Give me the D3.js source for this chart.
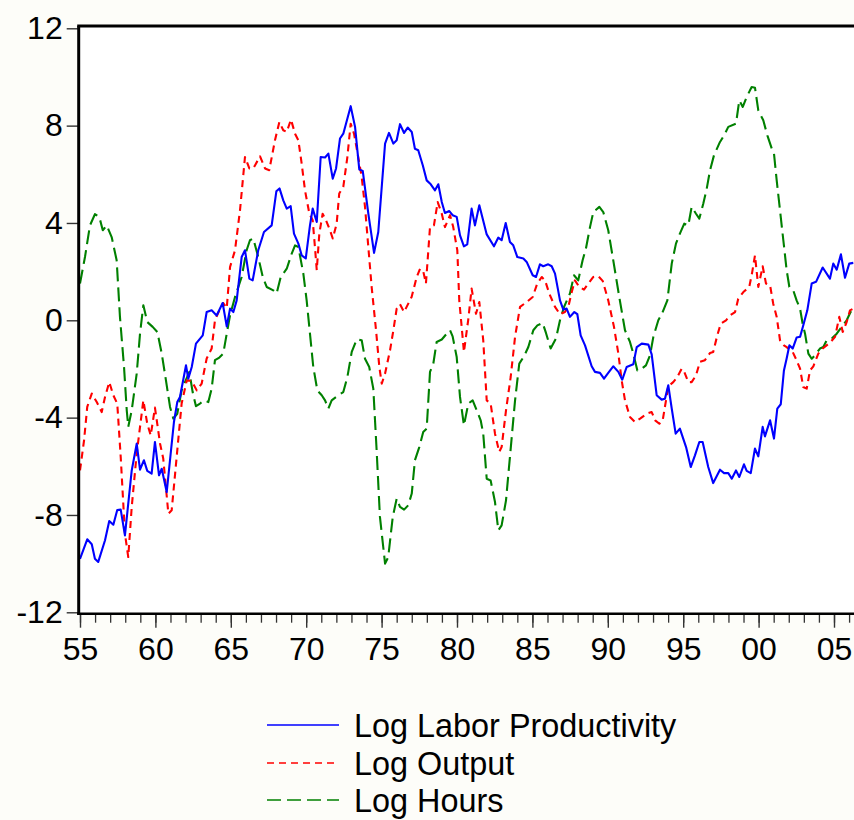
<!DOCTYPE html>
<html><head><meta charset="utf-8">
<script src="https://cdn.jsdelivr.net/npm/d3@7"></script>
<style>
html,body{margin:0;padding:0;background:#fdfdf9;}
svg{display:block;}
text{font-family:"Liberation Sans",Arial,sans-serif;fill:#000;}
</style></head><body>
<svg id="chart" width="854" height="820"></svg>
<script>
// ---------- DATA ----------
const seriesNames = ["Log Labor Productivity", "Log Output", "Log Hours"];
const yTickValues = [-12, -8, -4, 0, 4, 8, 12];
const xMajorYears = [1955, 1960, 1965, 1970, 1975, 1980, 1985, 1990, 1995, 2000, 2005];
const xTickLabels = ["55", "60", "65", "70", "75", "80", "85", "90", "95", "00", "05"];

const productivity = [
[1955.00,-9.8],[1955.48,-9.0],[1955.78,-9.2],[1955.99,-9.8],[1956.21,-9.93],[1956.66,-9.04],[1956.94,-8.25],[1957.21,-8.4],[1957.47,-7.8],[1957.70,-7.78],
[1957.98,-8.84],[1958.43,-6.17],[1958.76,-5.07],[1958.98,-6.14],[1959.24,-5.75],[1959.46,-6.19],[1959.75,-6.3],[1959.97,-5.0],[1960.24,-6.37],[1960.42,-6.1],
[1960.75,-7.06],[1961.23,-4.18],[1961.45,-3.36],[1961.63,-3.15],[1962.03,-1.85],[1962.18,-2.4],[1962.41,-1.92],[1962.69,-0.96],[1963.14,-0.62],[1963.40,0.34],
[1963.73,0.41],[1964.06,0.2],[1964.46,0.71],[1964.73,-0.25],[1964.95,0.48],[1965.17,0.34],[1965.39,0.82],[1965.72,2.6],[1965.94,2.88],[1966.23,1.71],
[1966.45,1.64],[1966.82,2.88],[1967.20,3.63],[1967.71,3.9],[1968.02,5.3],[1968.23,5.42],[1968.48,4.93],[1968.71,4.59],[1968.97,4.69],[1969.19,3.56],
[1969.48,3.15],[1969.70,2.67],[1969.97,2.54],[1970.25,3.9],[1970.43,4.59],[1970.70,4.04],[1970.96,6.71],[1971.25,6.69],[1971.47,6.85],[1971.76,5.82],
[1971.98,6.24],[1972.24,7.47],[1972.46,7.67],[1972.95,8.8],[1973.24,7.95],[1973.52,6.2],[1973.75,6.14],[1974.12,4.38],[1974.50,2.77],[1974.78,3.63],
[1975.23,7.26],[1975.49,7.7],[1975.78,7.26],[1976.00,7.4],[1976.22,8.06],[1976.49,7.7],[1976.73,7.92],[1977.00,7.74],[1977.21,7.05],[1977.43,6.99],
[1977.73,6.37],[1977.99,5.75],[1978.26,5.59],[1978.54,5.34],[1978.76,5.59],[1978.99,4.86],[1979.20,4.41],[1979.49,4.49],[1979.71,4.32],[1979.98,4.25],
[1980.20,3.49],[1980.46,3.04],[1980.68,3.12],[1980.97,4.59],[1981.19,3.9],[1981.48,4.73],[1981.97,3.53],[1982.45,3.04],[1982.74,3.4],[1982.96,3.29],
[1983.23,4.0],[1983.51,3.22],[1983.73,3.08],[1984.00,2.6],[1984.40,2.54],[1984.62,2.4],[1985.02,1.85],[1985.24,1.78],[1985.50,2.3],[1985.72,2.22],
[1986.05,2.3],[1986.28,2.22],[1986.50,1.92],[1986.83,0.82],[1987.05,0.44],[1987.27,0.48],[1987.49,0.14],[1987.78,0.34],[1987.98,0.25],[1988.20,-0.62],
[1988.49,-1.03],[1988.93,-1.89],[1989.15,-2.12],[1989.48,-2.16],[1989.75,-2.4],[1990.03,-2.16],[1990.36,-1.89],[1990.70,-2.12],[1990.96,-2.44],[1991.25,-1.92],
[1991.69,-1.81],[1991.92,-1.1],[1992.25,-0.96],[1992.69,-1.0],[1992.91,-1.4],[1993.24,-3.08],[1993.57,-3.26],[1993.79,-3.22],[1994.01,-2.67],[1994.24,-3.63],
[1994.50,-4.66],[1994.78,-4.45],[1995.19,-5.21],[1995.50,-6.03],[1995.78,-5.55],[1996.07,-5.0],[1996.29,-5.0],[1996.66,-6.03],[1996.99,-6.69],[1997.44,-6.14],
[1997.71,-6.28],[1997.99,-6.28],[1998.22,-6.51],[1998.50,-6.17],[1998.72,-6.44],[1999.03,-5.92],[1999.21,-6.19],[1999.48,-6.28],[1999.76,-5.27],[1999.98,-5.59],
[2000.27,-4.38],[2000.42,-4.77],[2000.76,-4.11],[2001.02,-4.86],[2001.24,-3.63],[2001.47,-3.45],[2001.68,-2.06],[2001.86,-1.57],[2002.04,-1.03],[2002.26,-1.16],
[2002.52,-0.71],[2002.75,-0.68],[2002.96,-0.21],[2003.23,0.41],[2003.52,1.51],[2003.81,1.58],[2004.25,2.17],[2004.73,1.71],[2004.95,2.33],[2005.18,2.08],
[2005.46,2.71],[2005.73,1.75],[2006.01,2.33],[2006.28,2.36]
];

const output = [
[1955.00,-6.17],[1955.27,-4.93],[1955.48,-3.56],[1955.78,-3.01],[1956.11,-3.36],[1956.44,-3.77],[1956.66,-3.15],[1956.94,-2.54],[1957.21,-3.08],[1957.47,-3.42],
[1957.70,-5.62],[1957.98,-8.77],[1958.20,-9.73],[1958.43,-7.67],[1958.76,-5.48],[1959.20,-3.29],[1959.46,-4.25],[1959.69,-4.73],[1959.97,-3.59],[1960.31,-5.07],
[1960.52,-5.68],[1960.86,-7.95],[1961.08,-7.81],[1961.41,-5.62],[1961.74,-3.42],[1962.08,-2.47],[1962.41,-2.49],[1962.74,-2.88],[1963.07,-2.6],[1963.40,-1.57],
[1963.73,-1.16],[1963.95,0.0],[1964.24,0.41],[1964.50,0.71],[1964.73,0.5],[1964.95,2.19],[1965.28,2.88],[1965.61,4.52],[1965.94,6.71],[1966.23,6.24],
[1966.49,6.24],[1966.94,6.74],[1967.27,6.24],[1967.55,6.17],[1967.93,7.4],[1968.22,8.15],[1968.48,7.81],[1968.71,7.74],[1968.99,8.25],[1969.26,7.67],
[1969.48,7.4],[1969.70,6.44],[1969.92,5.34],[1970.21,4.38],[1970.43,4.11],[1970.58,3.01],[1970.70,2.06],[1970.87,3.56],[1971.09,4.38],[1971.31,4.11],
[1971.58,3.7],[1971.76,3.36],[1972.02,3.97],[1972.19,5.21],[1972.46,5.48],[1972.73,6.71],[1972.95,8.08],[1973.17,7.67],[1973.39,6.92],[1973.68,5.89],
[1973.90,4.66],[1974.12,3.01],[1974.34,1.37],[1974.63,-0.4],[1974.85,-1.92],[1975.01,-2.6],[1975.23,-2.19],[1975.56,-1.23],[1975.78,-0.41],[1976.00,0.48],
[1976.22,0.66],[1976.49,0.34],[1976.99,0.96],[1977.33,1.78],[1977.55,2.12],[1977.77,1.99],[1977.94,1.51],[1978.21,3.83],[1978.47,3.9],[1978.72,4.86],
[1978.99,4.38],[1979.20,3.83],[1979.54,4.32],[1979.75,3.83],[1980.02,2.88],[1980.15,0.82],[1980.46,-1.3],[1980.74,0.0],[1980.97,1.3],[1981.26,0.27],
[1981.48,0.75],[1981.74,-0.82],[1981.97,-3.29],[1982.23,-3.42],[1982.52,-4.66],[1982.80,-5.41],[1982.96,-5.21],[1983.25,-3.7],[1983.56,-2.33],[1983.85,-0.68],
[1984.18,0.55],[1984.62,0.75],[1985.02,0.96],[1985.32,1.51],[1985.62,1.78],[1985.84,1.64],[1986.12,1.1],[1986.50,0.55],[1986.83,0.25],[1987.16,0.34],
[1987.38,0.55],[1987.61,1.16],[1987.82,1.64],[1988.11,1.37],[1988.42,1.26],[1988.71,1.51],[1989.04,1.78],[1989.37,1.81],[1989.66,1.62],[1990.03,0.82],
[1990.41,-0.27],[1990.70,-1.37],[1990.92,-2.47],[1991.14,-3.29],[1991.47,-3.97],[1991.80,-4.18],[1992.14,-4.04],[1992.58,-3.84],[1992.91,-3.77],[1993.14,-4.11],
[1993.42,-4.25],[1993.64,-4.11],[1993.86,-3.29],[1994.01,-2.71],[1994.34,-2.54],[1994.61,-2.33],[1994.90,-1.99],[1995.07,-2.12],[1995.34,-2.54],[1995.56,-2.54],
[1995.85,-2.26],[1996.11,-1.71],[1996.44,-1.64],[1996.78,-1.34],[1996.99,-1.3],[1997.26,-0.62],[1997.49,-0.14],[1997.84,0.0],[1998.10,0.2],[1998.44,0.34],
[1998.65,0.89],[1998.99,1.16],[1999.38,1.37],[1999.56,1.92],[1999.76,2.67],[1999.98,1.37],[2000.27,2.22],[2000.49,1.51],[2000.76,1.44],[2000.97,0.68],
[2001.20,0.14],[2001.42,-0.82],[2001.68,-1.03],[2001.86,-1.1],[2002.26,-1.3],[2002.52,-1.64],[2002.75,-1.99],[2002.96,-2.74],[2003.19,-2.81],[2003.41,-2.06],
[2003.63,-1.89],[2003.96,-1.37],[2004.25,-1.16],[2004.51,-1.03],[2004.78,-0.89],[2005.07,-0.68],[2005.35,0.14],[2005.58,-0.48],[2005.84,-0.07],[2006.06,0.41],
[2006.28,0.48]
];

const hours = [
[1955.00,1.51],[1955.33,2.6],[1955.66,3.9],[1955.99,4.36],[1956.28,4.25],[1956.51,3.7],[1956.77,3.9],[1957.10,3.42],[1957.43,2.47],[1957.65,0.14],
[1957.92,-1.92],[1958.10,-3.7],[1958.20,-4.38],[1958.43,-3.7],[1958.76,-2.19],[1958.98,-0.55],[1959.20,0.62],[1959.46,-0.07],[1959.82,-0.27],[1960.13,-0.48],
[1960.42,-1.37],[1960.70,-2.47],[1960.97,-3.56],[1961.19,-4.04],[1961.45,-3.84],[1961.74,-2.88],[1961.96,-2.54],[1962.25,-2.12],[1962.47,-2.95],[1962.69,-3.53],
[1962.96,-3.42],[1963.22,-3.29],[1963.51,-3.36],[1963.73,-2.81],[1963.95,-1.64],[1964.24,-1.53],[1964.50,-1.37],[1964.73,-0.55],[1964.95,0.2],[1965.28,0.96],
[1965.72,1.78],[1966.05,2.88],[1966.27,3.29],[1966.49,3.36],[1966.82,2.6],[1967.12,1.78],[1967.38,1.37],[1967.82,1.23],[1968.04,1.1],[1968.31,1.78],
[1968.71,2.12],[1969.04,2.74],[1969.26,3.08],[1969.48,3.01],[1969.81,1.92],[1970.03,0.82],[1970.25,-0.55],[1970.47,-1.92],[1970.74,-2.88],[1971.03,-3.08],
[1971.25,-3.29],[1971.47,-3.63],[1971.69,-3.29],[1972.13,-3.08],[1972.46,-2.95],[1972.73,-2.33],[1973.02,-1.3],[1973.35,-0.79],[1973.68,-0.82],[1973.90,-1.58],
[1974.18,-1.92],[1974.45,-2.81],[1974.67,-5.34],[1974.89,-8.08],[1975.23,-10.0],[1975.44,-9.73],[1975.74,-8.08],[1976.00,-7.33],[1976.22,-7.67],[1976.49,-7.78],
[1976.77,-7.6],[1977.00,-7.12],[1977.21,-5.75],[1977.50,-5.21],[1977.76,-4.59],[1977.99,-4.45],[1978.21,-2.12],[1978.43,-1.78],[1978.65,-0.89],[1978.99,-0.79],
[1979.32,-0.55],[1979.54,-0.41],[1979.71,-0.66],[1979.98,-1.51],[1980.20,-3.15],[1980.46,-4.32],[1980.75,-3.42],[1981.04,-3.29],[1981.31,-3.7],[1981.57,-4.11],
[1981.74,-4.66],[1981.97,-6.51],[1982.23,-6.58],[1982.52,-7.47],[1982.74,-8.63],[1982.96,-8.43],[1983.25,-7.4],[1983.51,-5.62],[1983.85,-3.29],[1984.13,-1.78],
[1984.44,-1.48],[1984.73,-1.1],[1985.06,-0.41],[1985.33,-0.21],[1985.68,-0.11],[1985.90,-0.52],[1986.21,-1.16],[1986.56,-0.75],[1986.83,0.0],[1987.10,0.55],
[1987.49,1.1],[1987.76,1.85],[1988.04,1.64],[1988.33,2.47],[1988.55,2.95],[1988.82,3.83],[1989.04,4.45],[1989.44,4.66],[1989.70,4.45],[1990.03,3.7],
[1990.36,2.47],[1990.76,0.96],[1991.14,-0.41],[1991.47,-0.89],[1991.69,-1.37],[1991.96,-2.06],[1992.25,-1.99],[1992.53,-1.85],[1992.80,-1.44],[1993.02,-0.68],
[1993.35,0.0],[1993.59,0.27],[1993.95,0.82],[1994.24,2.33],[1994.52,3.15],[1994.78,3.56],[1995.07,3.97],[1995.34,3.9],[1995.56,4.66],[1995.85,4.38],
[1996.07,4.18],[1996.33,4.79],[1996.56,5.41],[1996.78,6.17],[1997.04,6.78],[1997.44,7.33],[1997.71,7.6],[1997.99,7.95],[1998.50,8.08],[1998.72,9.04],
[1998.95,8.77],[1999.21,9.18],[1999.54,9.59],[1999.76,9.56],[1999.98,8.63],[2000.31,8.22],[2000.58,7.6],[2000.87,7.06],[2001.02,6.85],[2001.20,5.75],
[2001.42,4.52],[2001.64,3.29],[2001.86,2.06],[2002.04,1.37],[2002.30,1.23],[2002.52,0.82],[2002.75,0.48],[2002.92,-0.14],[2003.08,-0.55],[2003.30,-1.37],
[2003.52,-1.58],[2003.74,-1.44],[2004.07,-1.16],[2004.29,-1.1],[2004.52,-0.82],[2004.85,-0.75],[2005.18,-0.55],[2005.51,-0.27],[2005.84,0.0],[2006.10,0.34],
[2006.33,0.48]
];

// ---------- CHART ----------
const W = 854, H = 820;
const svg = d3.select("#chart");
const x = d3.scaleLinear().domain([1955, 2005]).range([80, 834]);
const y = d3.scaleLinear().domain([-12, 12]).range([612.3, 28.3]);
const plotL = 78.7, plotT = 26, plotB = 613.7;
const FONT = '"Liberation Sans", Arial, sans-serif';

svg.append("rect").attr("width", W).attr("height", H).attr("fill", "#fdfdf9");
svg.append("rect").attr("x", plotL).attr("y", plotT).attr("width", W - plotL).attr("height", plotB - plotT).attr("fill", "#ffffff");

svg.append("clipPath").attr("id", "clip").append("rect")
  .attr("x", plotL).attr("y", plotT).attr("width", W - plotL).attr("height", plotB - plotT);

const styles = [
  {data: productivity, color: "#0000ff", dash: null},
  {data: output, color: "#ff0000", dash: "7,5"},
  {data: hours, color: "#008000", dash: "14,6"}
];

const line = d3.line().x(d => x(d[0])).y(d => y(d[1]));
const g = svg.append("g").attr("clip-path", "url(#clip)");
[2, 1, 0].forEach(i => {
  const s = styles[i];
  g.append("path").datum(s.data)
    .attr("fill", "none").attr("stroke", s.color).attr("stroke-width", 2.1)
    .attr("stroke-linejoin", "round")
    .attr("stroke-dasharray", s.dash)
    .attr("d", line);
});

// Y axis
const yAxis = svg.append("g").attr("transform", `translate(${plotL},0)`)
  .call(d3.axisLeft(y).tickValues(yTickValues).tickSize(12).tickPadding(4).tickFormat(d => String(d)));
yAxis.select(".domain").remove();
yAxis.selectAll(".tick line").attr("stroke", "#333").attr("stroke-width", 1.4);
yAxis.selectAll(".tick text").attr("font-size", 32).attr("font-family", FONT).attr("fill", "#000");

// X axis minor ticks (yearly)
const xMinor = svg.append("g").attr("transform", `translate(0,${plotB})`)
  .call(d3.axisBottom(x).tickValues(d3.range(1955, 2007)).tickSize(9).tickFormat(""));
xMinor.select(".domain").remove();
xMinor.selectAll(".tick line").attr("stroke", "#333").attr("stroke-width", 1.3);

// X axis major ticks
const xMajor = svg.append("g").attr("transform", `translate(0,${plotB})`)
  .call(d3.axisBottom(x).tickValues(xMajorYears).tickSize(14).tickPadding(10)
    .tickFormat((d, i) => xTickLabels[i]));
xMajor.select(".domain").remove();
xMajor.selectAll(".tick line").attr("stroke", "#333").attr("stroke-width", 1.4);
xMajor.selectAll(".tick text").attr("font-size", 32).attr("font-family", FONT).attr("fill", "#000");

// Frame (top, left, bottom)
svg.append("line").attr("x1", plotL - 1.5).attr("x2", W).attr("y1", plotT).attr("y2", plotT)
  .attr("stroke", "#000").attr("stroke-width", 3);
svg.append("line").attr("x1", plotL).attr("x2", plotL).attr("y1", plotT).attr("y2", plotB + 1.2)
  .attr("stroke", "#000").attr("stroke-width", 3);
svg.append("line").attr("x1", plotL - 1.5).attr("x2", W).attr("y1", plotB).attr("y2", plotB)
  .attr("stroke", "#000").attr("stroke-width", 2.5);

// Legend
const legend = svg.append("g");
const legY = [725, 763, 800];
styles.forEach((s, i) => {
  legend.append("line").attr("x1", 267).attr("x2", 339).attr("y1", legY[i]).attr("y2", legY[i])
    .attr("stroke", s.color).attr("stroke-width", 1.6).attr("stroke-dasharray", s.dash);
  legend.append("text").attr("x", 354).attr("y", legY[i]).attr("dy", "0.36em")
    .attr("font-size", 32.4).attr("font-family", FONT).text(seriesNames[i]);
});
</script>
</body></html>
